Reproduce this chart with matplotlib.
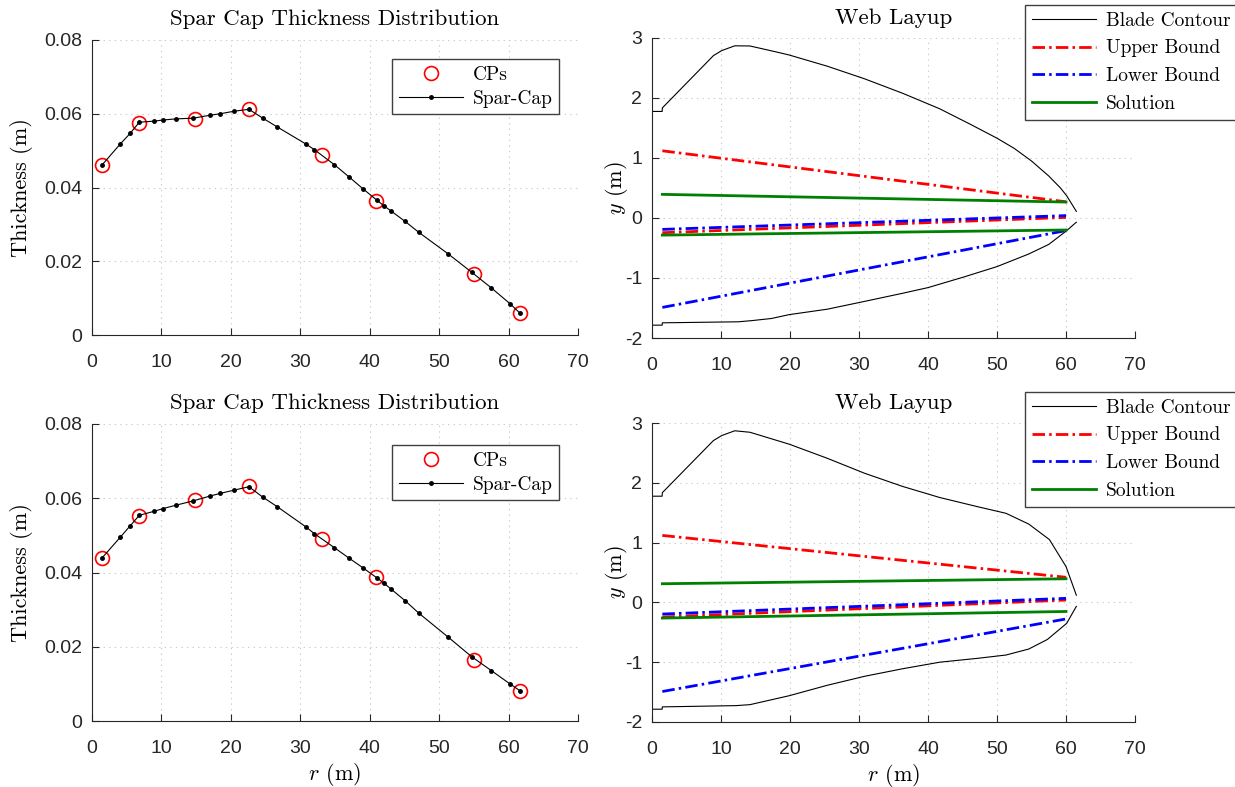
import matplotlib
matplotlib.use("Agg")
import matplotlib.pyplot as plt
import numpy as np

plt.rcParams['mathtext.fontset'] = 'cm'
plt.rcParams['axes.unicode_minus'] = False
plt.rcParams['axes.formatter.use_mathtext'] = False
plt.rcParams['lines.scale_dashes'] = False

# ---------------- data ----------------
r_stations = [1.44, 4.07, 5.51, 6.81, 8.96, 10.21, 12.03, 14.6, 17.0, 18.46, 20.5, 22.6,
              24.6, 26.7, 30.8, 32.0, 34.9, 37.0, 39.0, 41.0, 42.0, 43.1, 45.1, 47.1,
              51.3, 54.7, 57.5, 60.2, 61.6]
thick_top = [0.0461, 0.0518, 0.0547, 0.0577, 0.0580, 0.0583, 0.0586, 0.0588, 0.0596, 0.0600,
             0.0607, 0.0612, 0.0588, 0.0564, 0.0518, 0.0503, 0.0462, 0.0429, 0.0397, 0.0366,
             0.0351, 0.0336, 0.0308, 0.0278, 0.0220, 0.0170, 0.0128, 0.0085, 0.0060]
thick_bot = [0.0439, 0.0495, 0.0526, 0.0554, 0.0565, 0.0572, 0.0581, 0.0593, 0.0606, 0.0613,
             0.0622, 0.0631, 0.0603, 0.0577, 0.0523, 0.0505, 0.0467, 0.0439, 0.0413, 0.0386,
             0.0372, 0.0355, 0.0324, 0.0290, 0.0226, 0.0173, 0.0136, 0.0100, 0.0082]

cp_r = [1.44, 6.81, 14.86, 22.6, 33.1, 40.9, 55.05, 61.6]
cp_top = [0.0461, 0.0574, 0.0587, 0.0613, 0.0489, 0.0364, 0.0166, 0.0060]
cp_bot = [0.0439, 0.0553, 0.0594, 0.0633, 0.0489, 0.0388, 0.0165, 0.0082]

# blade contour, top-right panel
c1_up_r = [0, 1.47, 1.5, 8.9, 10.1, 12.0, 14.2, 18.3, 19.9, 25.4, 30.8, 36.3, 41.7, 46.0,
           50.0, 52.5, 55.0, 57.5, 59.2, 60.1, 61.5]
c1_up_y = [1.776, 1.776, 1.835, 2.706, 2.79, 2.87, 2.867, 2.76, 2.716, 2.53, 2.32, 2.08, 1.82,
           1.57, 1.33, 1.16, 0.95, 0.70, 0.50, 0.37, 0.11]
c1_lo_r = [0, 1.47, 1.5, 12.5, 14.5, 17.3, 19.9, 25.4, 30.8, 36.3, 40.0, 45.0, 50.0, 54.6,
           57.5, 60.0, 61.5]
c1_lo_y = [-1.786, -1.786, -1.747, -1.73, -1.71, -1.675, -1.61, -1.52, -1.39, -1.255, -1.16,
           -0.99, -0.81, -0.60, -0.44, -0.22, -0.07]

# blade contour, bottom-right panel
c2_up_r = [0, 1.47, 1.5, 8.9, 10.1, 12.0, 14.2, 19.9, 25.4, 30.8, 36.3, 41.7, 47.2, 51.3,
           54.6, 57.6, 60.0, 61.5]
c2_up_y = [1.776, 1.776, 1.835, 2.706, 2.79, 2.87, 2.845, 2.645, 2.41, 2.16, 1.94, 1.754, 1.60,
           1.49, 1.31, 1.05, 0.60, 0.12]
c2_lo_r = [0, 1.47, 1.5, 12.2, 14.2, 19.9, 25.4, 30.8, 36.3, 41.7, 47.2, 51.3, 54.6, 57.3,
           60.1, 61.5]
c2_lo_y = [-1.786, -1.786, -1.747, -1.726, -1.71, -1.56, -1.386, -1.236, -1.11, -1.00, -0.935,
           -0.88, -0.78, -0.62, -0.35, -0.066]

# web bound / solution lines (start r, end r)
web_r = [1.5, 60.0]
top_ub_upper = [1.12, 0.27]
top_ub_lower = [-0.245, 0.01]
top_lb_upper = [-0.19, 0.04]
top_lb_lower = [-1.49, -0.21]
top_sol_upper = [0.394, 0.266]
top_sol_lower = [-0.285, -0.20]

bot_ub_upper = [1.12, 0.42]
bot_ub_lower = [-0.245, 0.04]
bot_lb_upper = [-0.195, 0.068]
bot_lb_lower = [-1.49, -0.277]
bot_sol_upper = [0.312, 0.395]
bot_sol_lower = [-0.262, -0.152]

x_ticks = [0, 10, 20, 30, 40, 50, 60, 70]
t_ticks = [0, 0.02, 0.04, 0.06, 0.08]
t_labels = ['0', '0.02', '0.04', '0.06', '0.08']
y_ticks = [-2, -1, 0, 1, 2, 3]

# ---------------- styling ----------------
W, H = 1235, 787
fig = plt.figure(figsize=(W / 100, H / 100), dpi=100)

SERIF = 'cmr10'
AXC = '0.15'
TICKFONT = 'Liberation Sans'
TICKSIZE = 14
LABSIZE = 16
DASHDOT = (9.0, 3.0, 1.8, 3.0)


def px_axes(left, right, top, bottom):
    return fig.add_axes([left / W, 1 - bottom / H, (right - left) / W, (bottom - top) / H])


def style(ax):
    for s in ['top', 'right']:
        ax.spines[s].set_visible(False)
    for s in ['left', 'bottom']:
        ax.spines[s].set_color(AXC)
        ax.spines[s].set_linewidth(0.8)
    ax.tick_params(direction='in', length=5, width=0.8, color=AXC, labelcolor=AXC,
                   labelsize=TICKSIZE)
    ax.tick_params(axis='x', pad=14)
    ax.tick_params(axis='y', pad=7)
    for lab in ax.get_xticklabels() + ax.get_yticklabels():
        lab.set_fontfamily(TICKFONT)
    ax.grid(True, linestyle=(0, (1, 3)), color='0.8', linewidth=0.8)
    ax.set_axisbelow(True)


def spar_panel(ax, thick, cpv, xlabel):
    ax.plot(cp_r, cpv, linestyle='none', marker='o', markersize=10, markerfacecolor='none',
            markeredgecolor='red', markeredgewidth=1.2, label='CPs', zorder=3)
    ax.plot(r_stations, thick, color='black', linewidth=0.8, marker='.', markersize=5,
            label='Spar-Cap', zorder=4)
    ax.set_xlim(0, 70)
    ax.set_ylim(0, 0.08)
    ax.set_xticks(x_ticks)
    ax.set_yticks(t_ticks)
    ax.set_yticklabels(t_labels)
    style(ax)
    ax.set_title('Spar Cap Thickness Distribution', family=SERIF, fontsize=16.5, pad=11)
    ax.set_ylabel('Thickness (m)', family=SERIF, fontsize=LABSIZE)
    ax.yaxis.set_label_coords(-0.122, 0.5)
    if xlabel:
        ax.set_xlabel(r'$r$ (m)', family=SERIF, fontsize=LABSIZE)
        ax.xaxis.set_label_coords(0.5, -0.135)


def web_panel(ax, cu_r, cu_y, cl_r, cl_y, ubu, ubl, lbu, lbl, su, sl, xlabel):
    ax.plot(cu_r, cu_y, color='black', linewidth=0.8, label='Blade Contour')
    ax.plot(cl_r, cl_y, color='black', linewidth=0.8)
    ax.plot(web_r, ubu, color='red', linewidth=2, dashes=DASHDOT, label='Upper Bound')
    ax.plot(web_r, ubl, color='red', linewidth=2, dashes=DASHDOT)
    ax.plot(web_r, lbu, color='blue', linewidth=2, dashes=DASHDOT, label='Lower Bound')
    ax.plot(web_r, lbl, color='blue', linewidth=2, dashes=DASHDOT)
    ax.plot(web_r, su, color=(0, 0.5, 0), linewidth=2, label='Solution')
    ax.plot(web_r, sl, color=(0, 0.5, 0), linewidth=2)
    ax.set_xlim(0, 70)
    ax.set_ylim(-2, 3)
    ax.set_xticks(x_ticks)
    ax.set_yticks(y_ticks)
    style(ax)
    ax.set_title('Web Layup', family=SERIF, fontsize=16.5, pad=10)
    ax.set_ylabel(r'$y$ (m)', family=SERIF, fontsize=LABSIZE)
    ax.yaxis.set_label_coords(-0.045, 0.5)
    if xlabel:
        ax.set_xlabel(r'$r$ (m)', family=SERIF, fontsize=LABSIZE)
        ax.xaxis.set_label_coords(0.5, -0.133)


ax1 = px_axes(92, 578, 40, 335)
ax2 = px_axes(652, 1135, 38, 338)
ax3 = px_axes(92, 578, 424, 721)
ax4 = px_axes(652, 1135, 423, 722)

spar_panel(ax1, thick_top, cp_top, False)
spar_panel(ax3, thick_bot, cp_bot, True)
web_panel(ax2, c1_up_r, c1_up_y, c1_lo_r, c1_lo_y, top_ub_upper, top_ub_lower, top_lb_upper,
          top_lb_lower, top_sol_upper, top_sol_lower, False)
web_panel(ax4, c2_up_r, c2_up_y, c2_lo_r, c2_lo_y, bot_ub_upper, bot_ub_lower, bot_lb_upper,
          bot_lb_lower, bot_sol_upper, bot_sol_lower, True)


def add_legend(ax, x0, y0, spacing):
    leg = ax.legend(loc='upper left', bbox_to_anchor=(x0 / W, 1 - y0 / H),
                    bbox_transform=fig.transFigure, borderaxespad=0, fancybox=False,
                    framealpha=1, edgecolor='0.25', prop={'family': SERIF, 'size': 14},
                    handlelength=3.3, handletextpad=0.5, borderpad=0.35,
                    labelspacing=spacing)
    leg.get_frame().set_linewidth(1.0)
    return leg


add_legend(ax1, 392, 59, 0.3)
add_legend(ax3, 392, 445, 0.3)
add_legend(ax2, 1025, 5, 0.5)
add_legend(ax4, 1025, 392, 0.5)

fig.savefig('out.png', dpi=100)
